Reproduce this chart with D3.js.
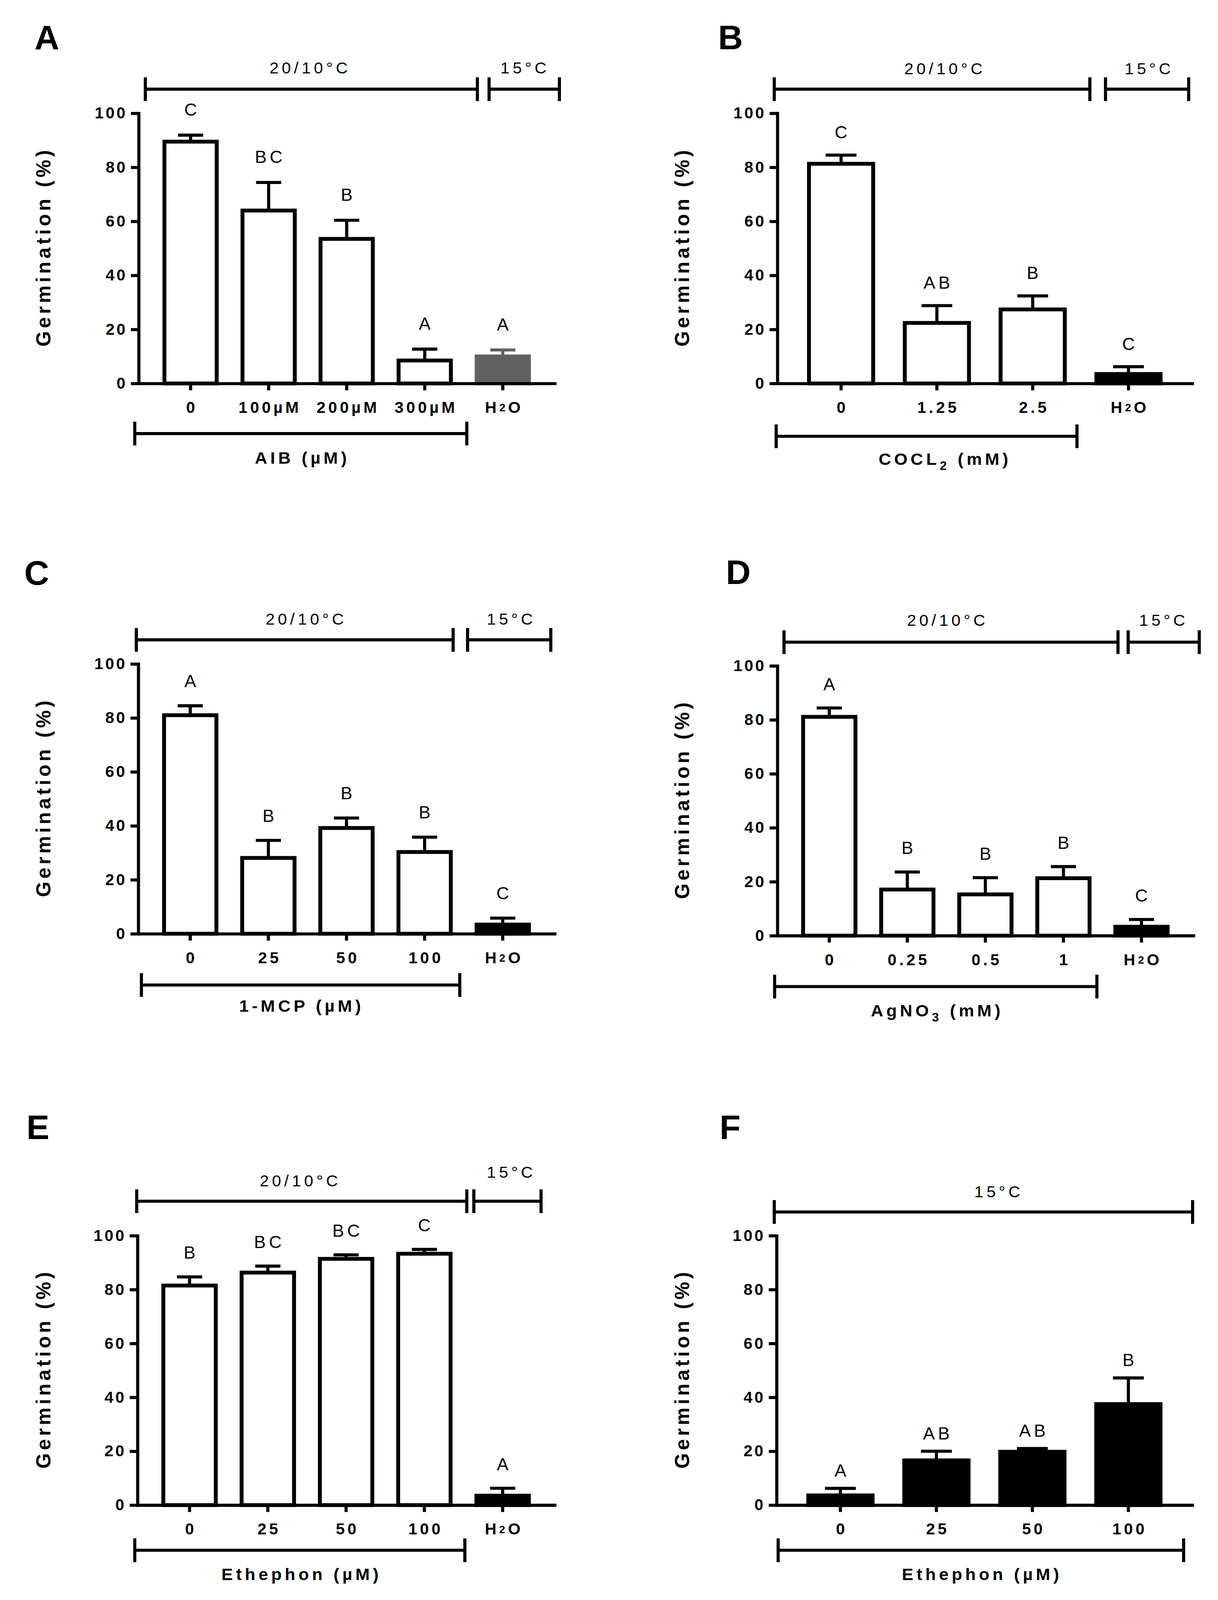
<!DOCTYPE html>
<html>
<head>
<meta charset="utf-8">
<script src="https://cdn.jsdelivr.net/npm/d3@7"></script>
<style>
  html, body { margin: 0; padding: 0; background: #fff; overflow: hidden; }
  svg { display: block; width: 100vw; height: 100vh; }
  text { font-family: 'Liberation Sans', Arial, sans-serif; fill: #000; }
</style>
</head>
<body>
<script>
// values (germination %, mean and error above the bar)
const yTicks = [0, 20, 40, 60, 80, 100];

const catsA = ['0', '100µM', '200µM', '300µM', 'H₂O'];
const meanA = [89.5, 64, 53.5, 8.5, 10];
const semA = [2.4, 10.4, 6.9, 4.2, 2.4];
const sigA = ['C', 'BC', 'B', 'A', 'A'];

const catsB = ['0', '1.25', '2.5', 'H₂O'];
const meanB = [81.3, 22.4, 27.4, 3.5];
const semB = [3.2, 6.4, 5, 2.7];
const sigB = ['C', 'AB', 'B', 'C'];

const catsC = ['0', '25', '50', '100', 'H₂O'];
const meanC = [81, 28.1, 39.2, 30.3, 3.4];
const semC = [3.5, 6.5, 3.7, 5.5, 2.4];
const sigC = ['A', 'B', 'B', 'B', 'C'];

const catsD = ['0', '0.25', '0.5', '1', 'H₂O'];
const meanD = [81.1, 17.1, 15.3, 21.3, 3.3];
const semD = [3.3, 6.5, 6.2, 4.3, 2.7];
const sigD = ['A', 'B', 'B', 'B', 'C'];

const catsE = ['0', '25', '50', '100', 'H₂O'];
const meanE = [81.5, 86.3, 91.4, 93.3, 3.5];
const semE = [3.2, 2.4, 1.5, 1.6, 2.75];
const sigE = ['B', 'BC', 'BC', 'C', 'A'];

const catsF = ['0', '25', '50', '100'];
const meanF = [3.6, 16.6, 19.8, 37.5];
const semF = [2.6, 3.4, 1.2, 9.7];
const sigF = ['A', 'AB', 'AB', 'B'];

const W = 3118, H = 4181;
const WHITE = '#fff', BLACK = '#000', GREY = '#616161';

const panels = [
  { id: 'A', cats: catsA, mean: meanA, sem: semA, sig: sigA,
    fills: [WHITE, WHITE, WHITE, WHITE, GREY],
    axisX: 355, xEnd: 1420, yTop: 296, y0: 1002, lx: 120, ly: 129, titleX: 129, gap: 9.5,
    topY: 233, top: [[372, 1222, '20/10°C', 790, 192], [1252, 1432, '15°C', 1340, 192]],
    bot: [345, 1195, 1133, 'AIB (µM)', 770, 1212] },
  { id: 'B', cats: catsB, mean: meanB, sem: semB, sig: sigB,
    fills: [WHITE, WHITE, WHITE, BLACK],
    axisX: 1990, xEnd: 3052, yTop: 296, y0: 1002, lx: 1870, ly: 129, titleX: 1764, gap: 8.5,
    topY: 233, top: [[1982, 2790, '20/10°C', 2415, 194], [2830, 3043, '15°C', 2938, 194]],
    bot: [1987, 2757, 1140, 'COCL₂ (mM)', 2415, 1215] },
  { id: 'C', cats: catsC, mean: meanC, sem: semC, sig: sigC,
    fills: [WHITE, WHITE, WHITE, WHITE, BLACK],
    axisX: 354, xEnd: 1420, yTop: 1735, y0: 2440, lx: 94, ly: 1528, titleX: 129, gap: 9.2,
    topY: 1672, top: [[349, 1160, '20/10°C', 780, 1632], [1197, 1410, '15°C', 1305, 1632]],
    bot: [362, 1177, 2574, '1-MCP (µM)', 768, 2644] },
  { id: 'D', cats: catsD, mean: meanD, sem: semD, sig: sigD,
    fills: [WHITE, WHITE, WHITE, WHITE, BLACK],
    axisX: 1990, xEnd: 3055, yTop: 1740, y0: 2445, lx: 1890, ly: 1526, titleX: 1764, gap: 8.9,
    topY: 1678, top: [[2007, 2862, '20/10°C', 2422, 1635], [2888, 3070, '15°C', 2975, 1635]],
    bot: [1983, 2808, 2578, 'AgNO₃ (mM)', 2395, 2656] },
  { id: 'E', cats: catsE, mean: meanE, sem: semE, sig: sigE,
    fills: [WHITE, WHITE, WHITE, WHITE, BLACK],
    axisX: 352, xEnd: 1420, yTop: 3229, y0: 3933, lx: 97, ly: 2977, titleX: 129, gap: 9,
    topY: 3139, top: [[350, 1195, '20/10°C', 765, 3100], [1213, 1385, '15°C', 1305, 3078]],
    bot: [345, 1190, 4051, 'Ethephon (µM)', 768, 4129] },
  { id: 'F', cats: catsF, mean: meanF, sem: semF, sig: sigF,
    fills: [BLACK, BLACK, BLACK, BLACK],
    axisX: 1988, xEnd: 3052, yTop: 3229, y0: 3933, lx: 1869, ly: 2977, titleX: 1764, gap: 6.7,
    topY: 3167, top: [[1982, 3053, '15°C', 2553, 3129]],
    bot: [1992, 3030, 4051, 'Ethephon (µM)', 2510, 4129] }
];

// the drawing is laid out in reference pixels and stretched to whatever the viewport is
const svg = d3.select('body').append('svg')
  .attr('viewBox', `0 0 ${W} ${H}`)
  .attr('preserveAspectRatio', 'none')
  .style('background', '#fff');

const subMap = { '₂': '2', '₃': '3' };

// text with letter spacing, subscripts drawn as smaller tspans
function label(g, str, x, y, o) {
  const t = g.append('text')
    .attr('x', x + (o.anchor === 'end' ? o.ls : o.anchor === 'middle' ? o.ls / 2 : 0))
    .attr('y', y)
    .attr('text-anchor', o.anchor || 'start')
    .attr('font-size', o.size)
    .attr('font-weight', o.bold ? 'bold' : 'normal')
    .style('letter-spacing', o.ls + 'px');
  const segs = [];
  for (const ch of str) {
    const sub = subMap[ch] !== undefined;
    const last = segs[segs.length - 1];
    if (last && last.sub === sub && !sub) last.t += ch;
    else segs.push({ t: sub ? subMap[ch] : ch, sub });
  }
  let pend = 0;
  segs.forEach(s => {
    const ts = t.append('tspan').text(s.t);
    if (s.sub) {
      ts.attr('font-size', o.subSize).attr('dy', o.subDy);
      pend = -o.subDy;
    } else if (pend) {
      ts.attr('dy', pend);
      pend = 0;
    }
  });
  return t;
}

function bracket(g, x1, x2, y) {
  g.append('path')
    .attr('d', `M${x1},${y}H${x2}M${x1},${y - 31}V${y + 31}M${x2},${y - 31}V${y + 31}`)
    .attr('fill', 'none')
    .attr('stroke', '#000')
    .attr('stroke-width', 8);
}

panels.forEach(p => {
  const g = svg.append('g');
  const rows = p.cats.map((c, i) => ({ c, m: p.mean[i], s: p.sem[i], l: p.sig[i], f: p.fills[i] }));

  const x = d3.scaleBand()
    .domain(p.cats)
    .range([p.axisX, p.xEnd])
    .paddingInner(0.33)
    .paddingOuter(0.33);

  const y = d3.scaleLinear()
    .domain([0, 100])
    .range([p.y0, p.yTop]);

  // bars
  g.selectAll('rect.bar')
    .data(rows)
    .enter()
    .append('rect')
    .attr('class', 'bar')
    .attr('x', d => x(d.c))
    .attr('width', x.bandwidth())
    .attr('y', d => y(d.m))
    .attr('height', d => y(0) - y(d.m))
    .attr('fill', d => d.f)
    .attr('stroke', d => d.f === GREY ? GREY : '#000')
    .attr('stroke-width', 10);

  // error bars (upper only)
  const capW = x.bandwidth() * 0.48;
  g.selectAll('path.err')
    .data(rows)
    .enter()
    .append('path')
    .attr('class', 'err')
    .attr('d', d => {
      const cx = x(d.c) + x.bandwidth() / 2;
      return `M${cx},${y(d.m)}V${y(d.m + d.s)}M${cx - capW / 2},${y(d.m + d.s)}H${cx + capW / 2}`;
    })
    .attr('fill', 'none')
    .attr('stroke', d => d.f === GREY ? GREY : '#000')
    .attr('stroke-width', 8);

  // significance letters
  rows.forEach(d => {
    label(g, d.l, x(d.c) + x.bandwidth() / 2, y(d.m + d.s + p.gap) + 16,
      { size: 45, ls: 8, anchor: 'middle' });
  });

  // y axis
  const ya = g.append('g')
    .attr('transform', `translate(${p.axisX},0)`)
    .call(d3.axisLeft(y).tickValues(yTicks).tickSize(20).tickSizeOuter(0).tickPadding(14));
  ya.select('.domain').attr('stroke-width', 8).attr('stroke-linecap', 'square');
  ya.selectAll('.tick line').attr('stroke-width', 8);
  ya.selectAll('.tick text')
    .attr('font-size', 41)
    .attr('font-weight', 'bold')
    .attr('font-family', "'Liberation Sans', Arial, sans-serif")
    .attr('dx', 5)
    .style('letter-spacing', '5px');

  // x axis
  const xa = g.append('g')
    .attr('transform', `translate(0,${p.y0})`)
    .call(d3.axisBottom(x).tickSize(18).tickSizeOuter(0).tickFormat(() => ''));
  xa.select('.domain').attr('stroke-width', 8).attr('stroke-linecap', 'square');
  xa.selectAll('.tick line').attr('stroke-width', 8);

  p.cats.forEach(c => {
    label(g, c, x(c) + x.bandwidth() / 2, p.y0 + 77,
      { size: 41, bold: true, ls: 7, anchor: 'middle', subSize: 28, subDy: -4 });
  });

  // y title
  const cy = (p.yTop + p.y0) / 2;
  g.append('text')
    .attr('transform', `translate(${p.titleX},${cy}) rotate(-90)`)
    .attr('x', 4)
    .attr('text-anchor', 'middle')
    .attr('font-size', 52)
    .attr('font-weight', 'bold')
    .style('letter-spacing', '8px')
    .text('Germination (%)');

  // panel letter
  g.append('text')
    .attr('x', p.lx)
    .attr('y', p.ly)
    .attr('text-anchor', 'middle')
    .attr('font-size', 88)
    .attr('font-weight', 'bold')
    .text(p.id);

  // temperature brackets
  p.top.forEach(([x1, x2, t, tx, ty]) => {
    bracket(g, x1, x2, p.topY);
    label(g, t, tx, ty, { size: 42, ls: 8, anchor: 'middle' });
  });

  // treatment bracket
  const [bx1, bx2, by, bt, btx, bty] = p.bot;
  bracket(g, bx1, bx2, by);
  label(g, bt, btx, bty, { size: 44, bold: true, ls: 8, anchor: 'middle', subSize: 32, subDy: 13 });
});
</script>
</body>
</html>
